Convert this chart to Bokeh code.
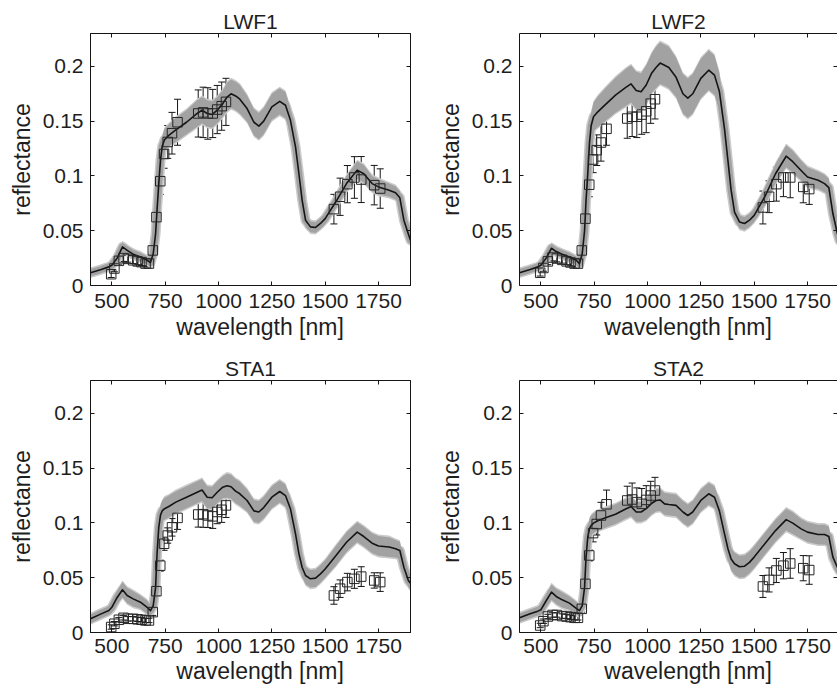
from bokeh.plotting import figure
from bokeh.layouts import gridplot
from bokeh.models import (Range1d, LinearAxis, FixedTicker, NumeralTickFormatter,
                          ColumnDataSource, Whisker, TeeHead)
from bokeh.embed import file_html
from bokeh.resources import INLINE

# ---------------- data ----------------
titles = ["LWF1", "LWF2", "STA1", "STA2"]
x_ticks = [500, 750, 1000, 1250, 1500, 1750]
y_ticks = [0, 0.05, 0.1, 0.15, 0.2]

wl = [400, 450, 486, 500, 525, 550, 572, 600, 634, 666, 681, 694, 705, 712, 720, 728,
      736, 747, 767, 800, 850, 900, 923, 947, 970, 994, 1020, 1040, 1059, 1080, 1100,
      1134, 1166, 1189, 1212, 1250, 1287, 1314, 1337, 1361, 1377, 1392, 1408, 1431,
      1455, 1478, 1500, 1550, 1600, 1650, 1681, 1720, 1750, 1800, 1830, 1850, 1869,
      1890, 1900]

lwf1_sim = [0.0116, 0.0146, 0.017, 0.0185, 0.025, 0.0353, 0.032, 0.0286, 0.026, 0.023,
            0.021, 0.029, 0.047, 0.069, 0.093, 0.114, 0.127, 0.133, 0.137, 0.142, 0.149,
            0.157, 0.160, 0.157, 0.156, 0.160, 0.166, 0.172, 0.175, 0.173, 0.170, 0.1615,
            0.149, 0.1455, 0.150, 0.163, 0.168, 0.1645, 0.151, 0.1266, 0.102, 0.078,
            0.0596, 0.0535, 0.053, 0.0566, 0.061, 0.0764, 0.093, 0.1053, 0.102, 0.093,
            0.090, 0.087, 0.0846, 0.080, 0.0596, 0.047, 0.0414]
lwf1_band = [0.003, 0.003, 0.003, 0.003, 0.004, 0.004, 0.004, 0.004, 0.004, 0.003,
             0.003, 0.003, 0.004, 0.005, 0.007, 0.008, 0.009, 0.010, 0.010, 0.011, 0.011,
             0.012, 0.012, 0.012, 0.012, 0.012, 0.012, 0.013, 0.013, 0.013, 0.013, 0.012,
             0.012, 0.012, 0.012, 0.012, 0.012, 0.012, 0.011, 0.010, 0.009, 0.007,
             0.006, 0.005, 0.005, 0.005, 0.005, 0.006, 0.007, 0.008, 0.008, 0.007,
             0.007, 0.006, 0.006, 0.006, 0.005, 0.004, 0.004]

lwf2_sim = [0.0116, 0.0146, 0.017, 0.0185, 0.025, 0.034, 0.031, 0.0286, 0.026, 0.023,
            0.020, 0.029, 0.050, 0.078, 0.102, 0.130, 0.146, 0.154, 0.1585, 0.1646, 0.1737,
            0.181, 0.184, 0.178, 0.1768, 0.183, 0.194, 0.199, 0.203, 0.201, 0.199, 0.190,
            0.175, 0.171, 0.175, 0.189, 0.1965, 0.192, 0.177, 0.143, 0.114, 0.087,
            0.067, 0.058, 0.0566, 0.0596, 0.064, 0.081, 0.102, 0.118, 0.113, 0.105,
            0.099, 0.096, 0.093, 0.0894, 0.0657, 0.0475, 0.041]
lwf2_band = [0.003, 0.003, 0.003, 0.003, 0.004, 0.004, 0.004, 0.004, 0.004, 0.003,
             0.003, 0.003, 0.005, 0.007, 0.009, 0.011, 0.012, 0.013, 0.014, 0.015, 0.016,
             0.017, 0.017, 0.017, 0.017, 0.018, 0.018, 0.019, 0.019, 0.019, 0.019, 0.018,
             0.018, 0.018, 0.018, 0.018, 0.018, 0.018, 0.017, 0.014, 0.011, 0.009,
             0.007, 0.006, 0.006, 0.006, 0.006, 0.008, 0.009, 0.010, 0.010, 0.009,
             0.009, 0.008, 0.008, 0.008, 0.006, 0.005, 0.004]

sta1_sim = [0.0125, 0.017, 0.020, 0.023, 0.032, 0.039, 0.0338, 0.0307, 0.0277, 0.023,
            0.020, 0.0246, 0.041, 0.0718, 0.096, 0.107, 0.111, 0.113, 0.115, 0.119, 0.1235,
            0.128, 0.130, 0.1235, 0.123, 0.128, 0.1326, 0.134, 0.133, 0.129, 0.1266, 0.1205,
            0.111, 0.110, 0.114, 0.1235, 0.1287, 0.125, 0.113, 0.090, 0.0718, 0.0596,
            0.052, 0.049, 0.0496, 0.0535, 0.058, 0.070, 0.0824, 0.0916, 0.0876, 0.0815,
            0.079, 0.078, 0.0764, 0.0748, 0.0596, 0.0475, 0.045]
sta1_band = [0.004, 0.004, 0.004, 0.005, 0.006, 0.007, 0.007, 0.007, 0.006, 0.006,
             0.005, 0.005, 0.006, 0.007, 0.008, 0.009, 0.009, 0.010, 0.010, 0.010, 0.010,
             0.010, 0.010, 0.010, 0.010, 0.010, 0.010, 0.011, 0.011, 0.011, 0.011, 0.010,
             0.010, 0.010, 0.010, 0.010, 0.010, 0.010, 0.010, 0.010, 0.009, 0.009,
             0.008, 0.008, 0.008, 0.008, 0.008, 0.009, 0.009, 0.009, 0.009, 0.009,
             0.009, 0.009, 0.008, 0.008, 0.007, 0.006, 0.006]

sta2_sim = [0.0134, 0.017, 0.0195, 0.0207, 0.029, 0.0368, 0.0329, 0.0298, 0.0268, 0.022,
            0.020, 0.0246, 0.041, 0.069, 0.087, 0.0946, 0.0977, 0.0998, 0.102, 0.1044, 0.108,
            0.113, 0.115, 0.110, 0.110, 0.113, 0.118, 0.1205, 0.121, 0.1174, 0.1168, 0.116,
            0.110, 0.1068, 0.110, 0.1205, 0.1266, 0.1235, 0.111, 0.090, 0.0764, 0.067,
            0.0627, 0.060, 0.0605, 0.064, 0.0688, 0.081, 0.093, 0.103, 0.0998, 0.0946,
            0.0916, 0.0894, 0.0894, 0.0876, 0.0688, 0.0596, 0.0566]
sta2_band = [0.004, 0.004, 0.004, 0.005, 0.006, 0.007, 0.007, 0.007, 0.006, 0.006,
             0.005, 0.005, 0.006, 0.007, 0.008, 0.009, 0.009, 0.009, 0.009, 0.009, 0.009,
             0.009, 0.009, 0.009, 0.009, 0.010, 0.010, 0.010, 0.010, 0.010, 0.010, 0.010,
             0.010, 0.010, 0.010, 0.010, 0.010, 0.010, 0.010, 0.010, 0.010, 0.010,
             0.010, 0.010, 0.010, 0.010, 0.010, 0.010, 0.010, 0.010, 0.010, 0.009,
             0.009, 0.009, 0.009, 0.009, 0.008, 0.007, 0.007]

meas_wl = [497, 512, 533, 555, 575, 600, 621, 639, 658, 674, 692, 709, 727, 745, 762,
           782, 808, 905, 928, 950, 973, 994, 1015, 1035, 1541, 1570, 1604, 1637, 1669,
           1730, 1758]

lwf1_meas = [0.0103, 0.0155, 0.0225, 0.025, 0.0243, 0.023, 0.022, 0.0213, 0.020, 0.020,
             0.032, 0.0624, 0.0952, 0.120, 0.131, 0.139, 0.149, 0.157, 0.158, 0.157,
             0.157, 0.1606, 0.1637, 0.1676, 0.0697, 0.081, 0.0925, 0.0986, 0.0967,
             0.0916, 0.0885]
lwf1_err = [0.003, 0.003, 0.003, 0.003, 0.003, 0.003, 0.003, 0.003, 0.003, 0.003,
            0.004, 0.008, 0.012, 0.013, 0.015, 0.019, 0.021, 0.0215, 0.023, 0.0235,
            0.022, 0.022, 0.022, 0.0215, 0.0135, 0.017, 0.017, 0.019, 0.021, 0.018, 0.018]

lwf2_meas = [0.0116, 0.016, 0.022, 0.0255, 0.0246, 0.0234, 0.022, 0.021, 0.020, 0.020,
             0.032, 0.061, 0.092, 0.115, 0.1235, 0.1305, 0.143, 0.1524, 0.154, 0.154,
             0.156, 0.159, 0.166, 0.170, 0.0712, 0.081, 0.0925, 0.0986, 0.0986, 0.090,
             0.088]
lwf2_err = [0.003, 0.003, 0.003, 0.003, 0.003, 0.003, 0.003, 0.003, 0.003, 0.003,
            0.004, 0.007, 0.011, 0.012, 0.014, 0.017, 0.015, 0.018, 0.018, 0.019,
            0.018, 0.0195, 0.018, 0.018, 0.015, 0.0145, 0.0155, 0.0175, 0.0185, 0.0145,
            0.014]

sta1_meas = [0.005, 0.008, 0.0116, 0.0134, 0.0125, 0.0125, 0.012, 0.0116, 0.011, 0.011,
             0.0186, 0.0377, 0.061, 0.081, 0.0885, 0.096, 0.1046, 0.1077, 0.108, 0.1068,
             0.106, 0.110, 0.112, 0.116, 0.0338, 0.040, 0.046, 0.049, 0.051, 0.0475, 0.046]
sta1_err = [0.002, 0.002, 0.002, 0.002, 0.002, 0.002, 0.002, 0.002, 0.002, 0.002,
            0.003, 0.004, 0.005, 0.006, 0.007, 0.008, 0.0105, 0.0115, 0.012, 0.011,
            0.011, 0.0107, 0.0115, 0.011, 0.008, 0.008, 0.008, 0.0087, 0.009, 0.007,
            0.0085]

sta2_meas = [0.0064, 0.0103, 0.0146, 0.016, 0.016, 0.015, 0.0146, 0.014, 0.0134, 0.0134,
             0.0216, 0.0444, 0.0703, 0.0907, 0.099, 0.1068, 0.117, 0.1205, 0.1214, 0.119,
             0.1174, 0.121, 0.125, 0.1296, 0.042, 0.048, 0.0566, 0.061, 0.063, 0.0587,
             0.057]
sta2_err = [0.002, 0.002, 0.002, 0.002, 0.002, 0.002, 0.002, 0.002, 0.002, 0.002,
            0.003, 0.004, 0.005, 0.008, 0.010, 0.012, 0.013, 0.013, 0.015, 0.013,
            0.014, 0.013, 0.013, 0.012, 0.010, 0.011, 0.011, 0.012, 0.0135, 0.0115, 0.013]

# ---------------- styling ----------------
FONT = "Liberation Sans"
TXT = "#1e1e1e"
BAND = "#a2a2a2"
FRINGE = "#cbcbcb"
INK = "#151515"
NB = "\u00a0\u00a0\u00a0"


def style_axis(ax, show_labels):
    ax.major_tick_in = 4
    ax.major_tick_out = 0
    ax.minor_tick_line_color = None
    ax.axis_line_color = INK
    ax.major_tick_line_color = INK
    if show_labels:
        ax.major_label_text_font = FONT
        ax.major_label_text_font_size = "21px"
        ax.major_label_text_color = TXT
        ax.axis_label_text_font = FONT
        ax.axis_label_text_font_size = "23px"
        ax.axis_label_text_font_style = "normal"
        ax.axis_label_text_color = TXT
    else:
        ax.major_label_text_font_size = "1px"
        ax.major_label_text_color = None
        ax.major_label_standoff = 0


def panel(title, sim, band, meas, err, width, height, bl, br, bt, bb, xend, xstand,
          xlstand, clipped_right):
    p = figure(width=width, height=height, output_backend="svg", toolbar_location=None,
               x_range=Range1d(400, xend), y_range=Range1d(0, 0.23),
               min_border_left=bl, min_border_right=br, min_border_top=bt,
               min_border_bottom=bb)
    p.xgrid.visible = False
    p.ygrid.visible = False
    p.outline_line_color = None if clipped_right else INK
    p.outline_line_width = 1
    p.background_fill_color = "white"
    p.border_fill_color = "white"

    p.title.text = title
    p.title.text_font = FONT
    p.title.text_font_size = "21px"
    p.title.text_font_style = "normal"
    p.title.text_color = TXT
    p.title.align = "center"
    p.title.standoff = 1

    xa = p.below[0]
    ya = p.left[0]
    xa.ticker = FixedTicker(ticks=x_ticks)
    ya.ticker = FixedTicker(ticks=y_ticks)
    ya.formatter = NumeralTickFormatter(format="0.[00]")
    xa.axis_label = NB + "wavelength [nm]"
    ya.axis_label = "reflectance"
    style_axis(xa, True)
    style_axis(ya, True)
    xa.major_label_standoff = xstand
    xa.axis_label_standoff = xlstand
    ya.major_label_standoff = 7
    ya.axis_label_standoff = 5

    top = LinearAxis(ticker=FixedTicker(ticks=x_ticks))
    right = LinearAxis(ticker=FixedTicker(ticks=y_ticks))
    style_axis(top, False)
    style_axis(right, False)
    if clipped_right:
        right.axis_line_color = None
    p.add_layout(top, "above")
    p.add_layout(right, "right")

    lower = [s - b for s, b in zip(sim, band)]
    upper = [s + b for s, b in zip(sim, band)]
    p.varea(x=wl, y1=[v - 0.0015 for v in lower], y2=[v + 0.0015 for v in upper],
            fill_color=FRINGE, fill_alpha=1.0)
    p.line(wl, sim, line_width=10, line_color=FRINGE, line_join="round", line_cap="round")
    p.varea(x=wl, y1=lower, y2=upper, fill_color=BAND, fill_alpha=1.0)
    p.line(wl, sim, line_width=7, line_color=BAND, line_join="round", line_cap="round")
    p.line(wl, sim, line_width=1.6, line_color=INK, line_join="round")

    src = ColumnDataSource(dict(x=meas_wl, y=meas,
                                lo=[m - e for m, e in zip(meas, err)],
                                hi=[m + e for m, e in zip(meas, err)]))
    wh = Whisker(base="x", upper="hi", lower="lo", source=src, dimension="height",
                 line_color=INK, line_width=1,
                 upper_head=TeeHead(size=7, line_color=INK, line_width=1),
                 lower_head=TeeHead(size=7, line_color=INK, line_width=1))
    p.add_layout(wh)
    p.scatter(x="x", y="y", source=src, marker="square", size=9.5, fill_color=None,
              line_color="#262626", line_width=1)
    return p


p1 = panel(titles[0], lwf1_sim, lwf1_band, lwf1_meas, lwf1_err,
           430, 345, 90, 20, 33, 60, 1900, 8, 3, False)
p2 = panel(titles[1], lwf2_sim, lwf2_band, lwf2_meas, lwf2_err,
           407, 345, 89, 0, 33, 60, 1890.6, 8, 3, True)
p3 = panel(titles[2], sta1_sim, sta1_band, sta1_meas, sta1_err,
           430, 342, 90, 20, 35, 55, 1900, 6, 2, False)
p4 = panel(titles[3], sta2_sim, sta2_band, sta2_meas, sta2_err,
           407, 342, 89, 0, 35, 55, 1890.6, 6, 2, True)

grid = gridplot([[p1, p2], [p3, p4]], toolbar_location=None)

with open("out.html", "w") as f:
    f.write(file_html(grid, INLINE))
